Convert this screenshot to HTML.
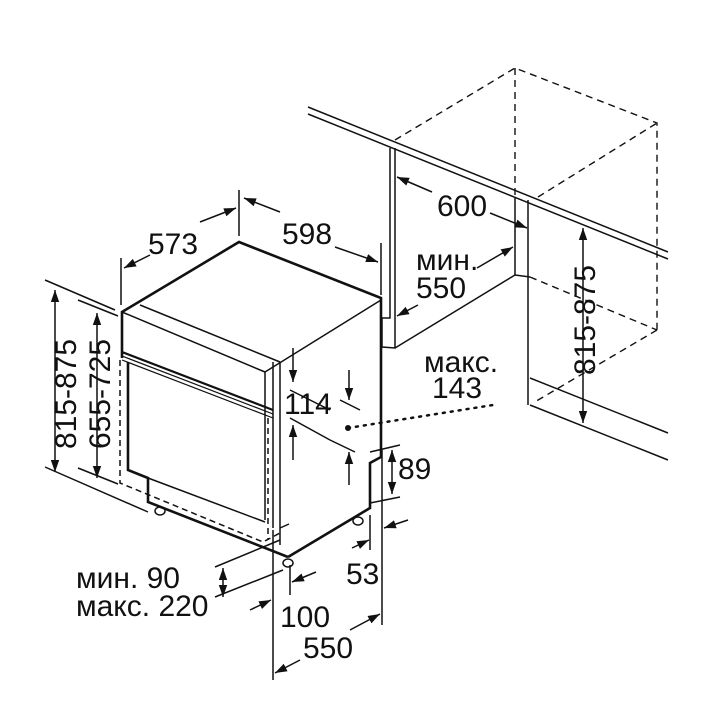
<!DOCTYPE html>
<html><head><meta charset="utf-8"><style>
html,body{margin:0;padding:0;background:#fff}
svg{display:block}
text{font-family:"Liberation Sans","DejaVu Sans",sans-serif;font-size:30px;fill:#111}
</style></head><body>
<svg width="720" height="720" viewBox="0 0 720 720" xmlns="http://www.w3.org/2000/svg">
<defs>
<marker id="a" viewBox="0 0 10 10" refX="10" refY="5" markerWidth="12" markerHeight="12" orient="auto-start-reverse" markerUnits="userSpaceOnUse"><path d="M0,1.5 L10,5 L0,8.5 Z" fill="#111"/></marker>
</defs>
<g stroke="#111" fill="none" stroke-width="1.5">
<line x1="308" y1="107" x2="668" y2="252"/>
<line x1="308" y1="114" x2="668" y2="259"/>
<g stroke-dasharray="7,5" stroke-width="1.4">
<polyline points="395,140 515,68 657,123 657,330"/>
<line x1="515" y1="68" x2="515" y2="198"/>
<line x1="538" y1="197" x2="657" y2="123"/>
<line x1="530" y1="277" x2="657" y2="330"/>
<line x1="657" y1="330" x2="533" y2="403"/>
</g>
<polyline points="390,148 390,318 382,318 382,347 395,348 395,148"/>
<line x1="395" y1="348" x2="515" y2="275"/>
<line x1="515" y1="275" x2="530" y2="277"/>
<line x1="515" y1="198" x2="515" y2="275"/>
<line x1="528" y1="200" x2="528" y2="405"/>
<line x1="530" y1="378" x2="668" y2="433"/>
<line x1="530" y1="405" x2="668" y2="460"/>
<g stroke-width="2.6">
<polyline points="122,358 122,312 239,242 381,298 381,457 370,463 370,508 288,557"/>
<polyline points="128,362 128,470 148,478 148,502 288,557"/>
</g>
<line x1="122" y1="312" x2="265" y2="372"/>
<line x1="140" y1="305" x2="280" y2="362"/>
<line x1="265" y1="372" x2="381" y2="300"/>
<line x1="265" y1="372" x2="265" y2="520"/>
<line x1="273" y1="362" x2="273" y2="528"/>
<line x1="280" y1="362" x2="280" y2="528"/>
<line x1="122" y1="352" x2="273" y2="410" stroke-width="2.2"/>
<line x1="122" y1="356" x2="273" y2="414" stroke-width="1.2"/>
<line x1="122" y1="360" x2="273" y2="418" stroke-width="1.2"/>
<line x1="148" y1="478" x2="265" y2="522"/>
<line x1="280" y1="528" x2="289" y2="524"/>
<line x1="280" y1="528" x2="280" y2="545"/>
<g stroke-dasharray="6,4">
<polyline points="120,360 120,483 263,542 280,533"/>
<line x1="268" y1="418" x2="268" y2="540"/>
</g>
<ellipse cx="160" cy="511" rx="5" ry="4"/><ellipse cx="288" cy="563" rx="5" ry="4"/><ellipse cx="358" cy="521" rx="5" ry="4"/>
<line x1="239" y1="190" x2="239" y2="236"/>
<line x1="121" y1="258" x2="121" y2="305"/>
<line x1="381" y1="243" x2="381" y2="295"/>
<line x1="45" y1="280" x2="115" y2="310"/>
<line x1="45" y1="467" x2="148" y2="512"/>
<line x1="78" y1="300" x2="118" y2="316"/>
<line x1="78" y1="468" x2="118" y2="484"/>
<line x1="290" y1="390" x2="330" y2="410"/>
<line x1="290" y1="418" x2="330" y2="440"/>
<line x1="340" y1="400" x2="360" y2="410"/>
<line x1="330" y1="440" x2="355" y2="452"/>
<line x1="370" y1="452" x2="400" y2="445"/>
<line x1="370" y1="503" x2="400" y2="497"/>
<line x1="382" y1="450" x2="382" y2="625"/>
<line x1="370" y1="515" x2="370" y2="550"/>
<line x1="273" y1="530" x2="273" y2="680"/>
<line x1="290" y1="565" x2="290" y2="595"/>
<line x1="215" y1="567" x2="280" y2="540"/>
<line x1="215" y1="597" x2="283" y2="570"/>
<g marker-end="url(#a)" marker-start="url(#a)">
<line x1="55" y1="290" x2="55" y2="472"/>
<line x1="97" y1="313" x2="97" y2="478"/>
<line x1="223" y1="568" x2="223" y2="597"/>
<line x1="392" y1="450" x2="392" y2="494"/>
<line x1="583" y1="228" x2="583" y2="423"/>
</g>
<g marker-end="url(#a)">
<line x1="200" y1="222" x2="236" y2="208"/>
<line x1="150" y1="255" x2="124" y2="268"/>
<line x1="280" y1="212" x2="244" y2="198"/>
<line x1="335" y1="247" x2="378" y2="262"/>
<line x1="432" y1="192" x2="397" y2="177"/>
<line x1="490" y1="213" x2="527" y2="228"/>
<line x1="477" y1="268" x2="513" y2="247"/>
<line x1="418" y1="305" x2="397" y2="316"/>
<line x1="293" y1="348" x2="293" y2="382"/>
<line x1="293" y1="460" x2="293" y2="425"/>
<line x1="349" y1="370" x2="349" y2="400"/>
<line x1="349" y1="485" x2="349" y2="452"/>
<line x1="352" y1="548" x2="369" y2="540"/>
<line x1="408" y1="520" x2="384" y2="528"/>
<line x1="250" y1="610" x2="271" y2="600"/>
<line x1="316" y1="572" x2="292" y2="582"/>
<line x1="300" y1="660" x2="275" y2="673"/>
<line x1="350" y1="630" x2="380" y2="614"/>
</g>
<line x1="348" y1="428" x2="493" y2="405" stroke-dasharray="2,6" stroke-width="2.5" stroke-linecap="round"/>
</g>
<circle cx="348" cy="428" r="3" fill="#111"/>
<text x="148" y="254">573</text>
<text x="282" y="244">598</text>
<text x="437" y="216">600</text>
<text x="416" y="270">мин.</text>
<text x="416" y="298">550</text>
<text x="424" y="372">макс.</text>
<text x="432" y="398">143</text>
<text x="284" y="414">114</text>
<text x="398" y="479">89</text>
<text x="346" y="584">53</text>
<text x="280" y="627">100</text>
<text x="303" y="658">550</text>
<text x="76" y="588">мин. 90</text>
<text x="76" y="616">макс. 220</text>
<text transform="translate(76,394) rotate(-90)" text-anchor="middle">815-875</text>
<text transform="translate(110,394) rotate(-90)" text-anchor="middle">655-725</text>
<text transform="translate(595,320) rotate(-90)" text-anchor="middle">815-875</text>
</svg>
</body></html>
